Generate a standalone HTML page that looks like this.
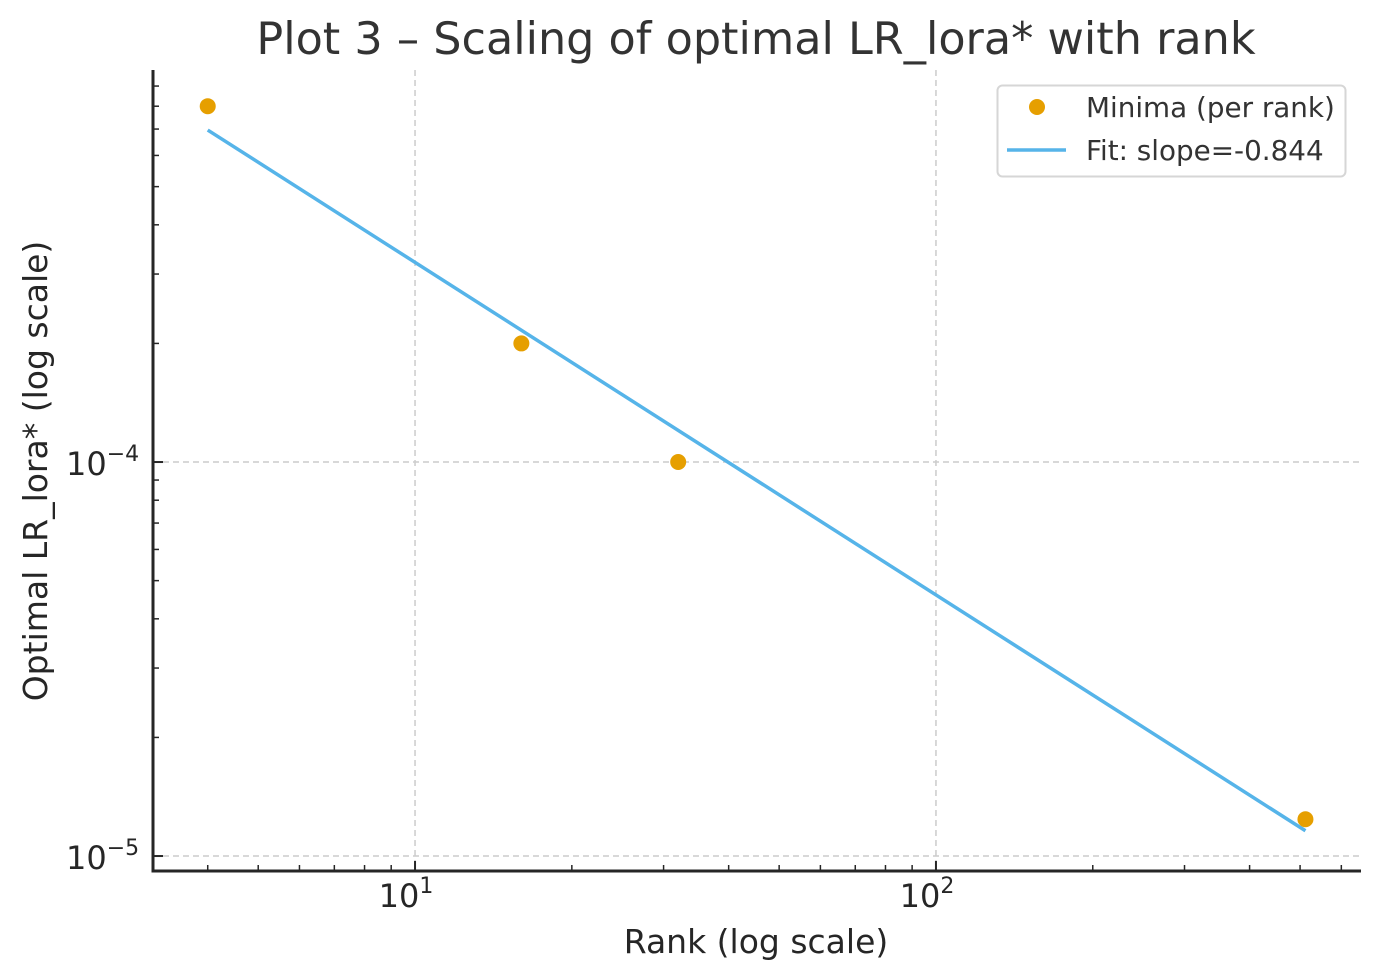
<!DOCTYPE html>
<html><head><meta charset="utf-8"><style>
html,body{margin:0;padding:0;background:#fff;}
svg{display:block;font-family:"DejaVu Sans","Liberation Sans",sans-serif;}
</style></head><body>
<svg id="chart" width="1379" height="980" viewBox="0 0 1379 980" xmlns="http://www.w3.org/2000/svg">
<text x="756" y="54" font-size="44.5" fill="#333" text-anchor="middle">Plot 3 – Scaling of optimal LR_lora* with rank</text>
<text x="756" y="953" font-size="33" fill="#262626" text-anchor="middle">Rank (log scale)</text>
<text transform="translate(47,471) rotate(-90)" font-size="33" fill="#262626" text-anchor="middle">Optimal LR_lora* (log scale)</text>
<g id="grid"></g>
<g id="ticks"></g>
<g id="marks"></g>
<line x1="153" y1="871" x2="1361" y2="871" stroke="#262626" stroke-width="3"/>
<line x1="153" y1="70" x2="153" y2="872.5" stroke="#262626" stroke-width="3"/>
<g>
<rect x="997.5" y="85.5" width="348" height="91" rx="5" fill="#fff" stroke="#d6d6d6" stroke-width="2"/>
<circle cx="1037" cy="107" r="8" fill="#E69F00"/>
<text x="1086" y="117" font-size="27.8" fill="#333">Minima (per rank)</text>
<line x1="1007" y1="150" x2="1066" y2="150" stroke="#56B4E9" stroke-width="3.5"/>
<text x="1086" y="160" font-size="27.8" fill="#333">Fit: slope=-0.844</text>
</g>
</svg>
<script>
const ranks = [4, 16, 32, 512];
const minimaLR = [8.0e-4, 2.0e-4, 1.0e-4, 1.24e-5];
const fitSlope = -0.844;
const fitAtRank4 = 6.96e-4;
const xMajorTicks = [10, 100];
const xTickExps = ["1", "2"];
const yMajorTicks = [1e-4, 1e-5];
const yTickExps = ["−4", "−5"];

const NS = "http://www.w3.org/2000/svg";
const X0 = 153, X1 = 1360, Y0 = 871, Y1 = 70;
const xLogMin = 0.497, xLogMax = 2.814, yLogMin = -5.038, yLogMax = -3.005;
function xs(v){ return X0 + (Math.log10(v) - xLogMin) / (xLogMax - xLogMin) * (X1 - X0); }
function ys(v){ return Y0 - (Math.log10(v) - yLogMin) / (yLogMax - yLogMin) * (Y0 - Y1); }
function mk(tag, attrs, parent){ const e = document.createElementNS(NS, tag); for (const k in attrs) e.setAttribute(k, attrs[k]); parent.appendChild(e); return e; }

const grid = document.getElementById('grid');
const ticks = document.getElementById('ticks');
const marks = document.getElementById('marks');

xMajorTicks.forEach((v, i) => {
  const x = xs(v);
  const g = mk('line', {x1:x, y1:Y1, x2:x, y2:Y0, stroke:'#cccccc', 'stroke-width':1.5, 'stroke-dasharray':'6,4'}, grid);
  
  
  const t = mk('line', {x1:x, y1:Y0, x2:x, y2:Y0-10, stroke:'#262626', 'stroke-width':2}, ticks);
  
  
  const tx = mk('text', {x:x-9, y:907, 'font-size':32, fill:'#262626', 'text-anchor':'middle'}, ticks);
  
  
  tx.textContent = '10';
  const sup = mk('tspan', {dy:-14, 'font-size':22}, tx);
  sup.textContent = xTickExps[i];
});
for (let d = 0; d <= 2; d++) {
  for (let m = 2; m <= 9; m++) {
    const v = m * Math.pow(10, d);
    const lv = Math.log10(v);
    if (lv < xLogMin || lv > xLogMax) continue;
    const x = xs(v);
    const t = mk('line', {x1:x, y1:Y0, x2:x, y2:Y0-6, stroke:'#262626', 'stroke-width':1.5}, ticks);
    
    
  }
}
yMajorTicks.forEach((v, i) => {
  const y = ys(v);
  const g = mk('line', {x1:X0, y1:y, x2:X1, y2:y, stroke:'#cccccc', 'stroke-width':1.5, 'stroke-dasharray':'6,4'}, grid);
  
  
  const t = mk('line', {x1:X0, y1:y, x2:X0+10, y2:y, stroke:'#262626', 'stroke-width':2}, ticks);
  
  
  const tx = mk('text', {x:66, y:y+13, 'font-size':32, fill:'#262626'}, ticks);
  
  
  tx.textContent = '10';
  const sup = mk('tspan', {dy:-14, 'font-size':22}, tx);
  sup.textContent = yTickExps[i];
});
for (let d = -6; d <= -3; d++) {
  for (let m = 2; m <= 9; m++) {
    const v = m * Math.pow(10, d);
    const lv = Math.log10(v);
    if (lv < yLogMin || lv > yLogMax) continue;
    const y = ys(v);
    const t = mk('line', {x1:X0, y1:y, x2:X0+6, y2:y, stroke:'#262626', 'stroke-width':1.5}, ticks);
    
    
  }
}
const rMin = ranks[0], rMax = ranks[ranks.length-1];
const fitEnd = fitAtRank4 * Math.pow(rMax / rMin, fitSlope);
const fl = mk('line', {x1:xs(rMin), y1:ys(fitAtRank4), x2:xs(rMax), y2:ys(fitEnd), stroke:'#56B4E9', 'stroke-width':3.5}, marks);


ranks.forEach((r, i) => {
  const c = mk('circle', {cx:xs(r), cy:ys(minimaLR[i]), r:8, fill:'#E69F00'}, marks);
  
  
});
</script>
</body></html>
